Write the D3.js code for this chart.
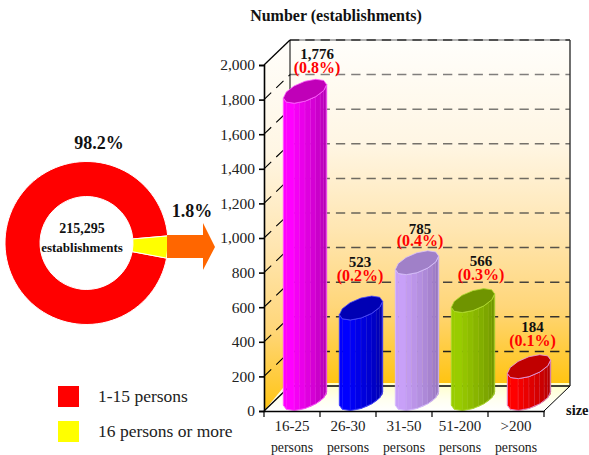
<!DOCTYPE html>
<html><head><meta charset="utf-8">
<script src="https://cdn.jsdelivr.net/npm/d3@7"></script>
<style>html,body{margin:0;padding:0;background:#fff}svg{display:block}text{font-family:"Liberation Serif","Times New Roman",serif}</style>
</head><body>
<script>
const categories=["16-25","26-30","31-50","51-200",">200"];
const categoryUnit="persons";
const values=[1776,523,785,566,184];
const valueLabels=["1,776","523","785","566","184"];
const shareLabels=["(0.8%)","(0.2%)","(0.4%)","(0.3%)","(0.1%)"];
const bodyLight=["#ff00ff","#0000ff","#c8a0f8","#99cc00","#ff0000"];
const bodyDark=["#a000a0","#000098","#8c6cb0","#668800","#a00000"];
const topColors=["#c000b8","#0000b4","#a080c8","#6f9400","#c00000"];
const edgeColors=["#ff60ff","#4a4aff","#d8c0ff","#b0dc30","#e0a0f0"];
const yTicks=[0,200,400,600,800,1000,1200,1400,1600,1800,2000];
const donutLabels=["1-15 persons","16 persons or more"];
const donutShares=[95.64,4.36];
const donutColors=["#ff0000","#ffff00"];

const W=589,H=455;
const svg=d3.select("body").append("svg").attr("width",W).attr("height",H);
const defs=svg.append("defs");
const wg=defs.append("linearGradient").attr("id","wall").attr("x1",0).attr("x2",0).attr("y1",0).attr("y2",1);
[[0,"#fffefb"],[.3,"#fff6e4"],[.55,"#ffe6b2"],[.78,"#ffd679"],[1,"#ffc412"]].forEach(s=>wg.append("stop").attr("offset",s[0]).attr("stop-color",s[1]));
const fg=defs.append("linearGradient").attr("id","floor").attr("x1",0).attr("x2",0).attr("y1",0).attr("y2",1);
[[0,"#ffffc8"],[.6,"#fffff0"],[1,"#ffffff"]].forEach(s=>fg.append("stop").attr("offset",s[0]).attr("stop-color",s[1]));

// plot geometry
const x0=264,x1=544,yB=411,yT=65,dx=26,dy=25;
const x=d3.scaleBand().domain(categories).range([x0,x1]);
const y=d3.scaleLinear().domain([0,2000]).range([yB,yT]);
const poly=p=>d3.line()(p)+"Z";

// walls and floor
svg.append("path").attr("d",poly([[x0,yT],[x0+dx,yT-dy],[x0+dx,yB-dy],[x0,yB]])).attr("fill","url(#wall)");
svg.append("rect").attr("x",x0+dx).attr("y",yT-dy).attr("width",x1-x0).attr("height",yB-yT-3).attr("fill","url(#wall)");
svg.append("path").attr("d",poly([[x0,yB],[x0+dx-3,yB-dy-3],[x1+dx,yB-dy-3],[x1+dx,yB-dy],[x1,yB]])).attr("fill","url(#floor)");

// grid
const gridCol=d3.scaleLinear().domain([0,1000,2000]).range(["#111","#6a6458","#858585"]);
yTicks.filter(t=>t>0&&t<2000).forEach(t=>{
  svg.append("line").attr("x1",x0+dx).attr("x2",x1+dx).attr("y1",y(t)-dy).attr("y2",y(t)-dy)
    .attr("stroke",gridCol(t)).attr("stroke-width",1.5).attr("stroke-dasharray","9.3 6");
  svg.append("line").attr("x1",x0).attr("x2",x0+dx).attr("y1",y(t)).attr("y2",y(t)-dy)
    .attr("stroke","#000").attr("stroke-width",1.1).attr("stroke-dasharray","10 7");
});
svg.append("line").attr("x1",x0+dx).attr("x2",x1+dx).attr("y1",yT-dy).attr("y2",yT-dy).attr("stroke","#999").attr("stroke-width",1.6);
svg.append("line").attr("x1",x0+dx).attr("x2",x1+dx).attr("y1",yT-dy).attr("y2",yT-dy).attr("stroke","#333").attr("stroke-width",1.6).attr("stroke-dasharray","9.3 6");
svg.append("line").attr("x1",x0+dx).attr("x2",x0+dx).attr("y1",yT-dy).attr("y2",yB-dy).attr("stroke","#000");
svg.append("line").attr("x1",x0).attr("x2",x0+dx).attr("y1",yT).attr("y2",yT-dy).attr("stroke","#000").attr("stroke-width",1.3);
svg.append("line").attr("x1",x0).attr("x2",x0+dx).attr("y1",yB).attr("y2",yB-dy).attr("stroke","#000").attr("stroke-width",1.3);
svg.append("line").attr("x1",x0+dx).attr("x2",x1+dx).attr("y1",yB-dy).attr("y2",yB-dy).attr("stroke","#000").attr("stroke-width",1.3);
svg.append("line").attr("x1",x1).attr("x2",x1+dx).attr("y1",yB).attr("y2",yB-dy).attr("stroke","#000");
svg.append("line").attr("x1",x1+dx).attr("x2",x1+dx).attr("y1",yT-dy).attr("y2",yB-dy).attr("stroke","#333").attr("stroke-width",1.4);

// bars
const R=[18,12,12];
const pt=(cx,cy,a)=>[cx+R[0]*Math.cos(a)+R[1]*Math.sin(a),cy-R[2]*Math.sin(a)];
const ringAngles=d3.range(0,12).map(i=>(34+i*30)*Math.PI/180);
const frontAngles=d3.range(0,7).map(i=>(214+i*30)*Math.PI/180);
values.forEach((v,i)=>{
  const cx=x(categories[i])+x.bandwidth()/2+dx/2;
  const cb=yB-dy/2, ct=y(v)-dy/2;
  const g=svg.append("g");
  const col=d3.scaleLinear().domain([0,1.5,6]).range([bodyLight[i],bodyLight[i],bodyDark[i]]);
  // each front facet is split into slim strips for the ribbed look
  const strips=[];
  frontAngles.slice(0,-1).forEach((a,k)=>{
    const b=frontAngles[k+1];
    const n=k<2?1:2;
    d3.range(n).forEach(s=>strips.push([a+(b-a)*s/n,a+(b-a)*(s+1)/n,k+s/n]));
  });
  strips.forEach(([a,b,t],k)=>{
    g.append("path").attr("d",poly([pt(cx,ct,a),pt(cx,ct,b),pt(cx,cb,b),pt(cx,cb,a)]))
      .attr("fill",col(t)).attr("stroke",col(t)).attr("stroke-width",.4);
    if(k>=1&&k<strips.length-1) g.append("line").attr("x1",pt(cx,ct,b)[0]).attr("x2",pt(cx,cb,b)[0]).attr("y1",pt(cx,ct,b)[1]).attr("y2",pt(cx,cb,b)[1])
      .attr("stroke",edgeColors[i]).attr("stroke-opacity",.55).attr("stroke-width",.7);
  });
  g.append("path").attr("d",poly(frontAngles.map(a=>pt(cx,ct,a)).concat(frontAngles.slice().reverse().map(a=>pt(cx,cb,a)))))
    .attr("fill","none").attr("stroke",edgeColors[i]).attr("stroke-width",.8);
  g.append("path").attr("d",poly(ringAngles.map(a=>pt(cx,ct,a)))).attr("fill",topColors[i]).attr("stroke",edgeColors[i]).attr("stroke-width",.8);
});

// axes
const ax=svg.append("g").attr("transform",`translate(${x0},0)`)
  .call(d3.axisLeft(y).tickValues(yTicks).tickFormat(d3.format(",")).tickSize(5).tickPadding(4));
ax.selectAll("path,line").attr("stroke","#000").attr("stroke-width",1.6);
ax.selectAll("text").attr("font-size",15.5).attr("fill","#222").attr("font-family","Liberation Serif");
const bx=svg.append("g").attr("transform",`translate(0,${yB})`)
  .call(d3.axisBottom(x).tickFormat(()=>"").tickSize(0));
bx.select("path").attr("stroke","#000").attr("stroke-width",1.6);
d3.range(0,6).forEach(i=>svg.append("line").attr("x1",x0+i*x.bandwidth()).attr("x2",x0+i*x.bandwidth()).attr("y1",yB).attr("y2",yB+6).attr("stroke","#000").attr("stroke-width",1.2));
categories.forEach(c=>{
  const cx=x(c)+x.bandwidth()/2;
  svg.append("text").attr("x",cx).attr("y",431).attr("text-anchor","middle").attr("font-size",15).attr("fill","#222").text(c);
  svg.append("text").attr("x",cx).attr("y",452).attr("text-anchor","middle").attr("font-size",13.8).attr("fill","#222").text(categoryUnit);
});
svg.append("text").attr("x",566).attr("y",415).attr("font-size",14.5).attr("font-weight","bold").attr("fill","#111").text("size");
svg.append("text").attr("x",336).attr("y",21).attr("text-anchor","middle").attr("font-size",16).attr("font-weight","bold").attr("fill","#111").text("Number (establishments)");

// data labels
const labelDX=[12,-1,3,8,3.5], labelDY=[32,41,29,35,35], labelGap=[14,14,12,14,14];
values.forEach((v,i)=>{
  const cx=x(categories[i])+x.bandwidth()/2+dx/2+labelDX[i];
  const base=y(v)-dy/2-labelDY[i];
  svg.append("text").attr("x",cx).attr("y",base).attr("text-anchor","middle").attr("font-size",15).attr("font-weight","bold").attr("fill","#111").text(valueLabels[i]);
  svg.append("text").attr("x",cx).attr("y",base+labelGap[i]).attr("text-anchor","middle").attr("font-size",16).attr("font-weight","bold").attr("fill","#ff0000").text(shareLabels[i]);
});

// donut
const dg=svg.append("g").attr("transform","translate(86.5,243)");
const arcs=d3.pie().sort(null).startAngle((85+15.7)*Math.PI/180).endAngle((360+85+15.7)*Math.PI/180)(donutShares);
dg.selectAll("path").data(arcs).join("path").attr("d",d3.arc().innerRadius(46.5).outerRadius(81.5))
  .attr("fill",(d,i)=>donutColors[i]).attr("stroke","#fff").attr("stroke-width",1);
svg.append("path").attr("fill","#ff6600")
  .attr("d",poly([[167,235],[203,235],[203,223],[215,247],[203,270],[203,258],[167,258]]));
svg.append("text").attr("x",99).attr("y",149).attr("text-anchor","middle").attr("font-size",18).attr("font-weight","bold").attr("fill","#111").text("98.2%");
svg.append("text").attr("x",192).attr("y",217).attr("text-anchor","middle").attr("font-size",18).attr("font-weight","bold").attr("fill","#111").text("1.8%");
svg.append("text").attr("x",82).attr("y",233).attr("text-anchor","middle").attr("font-size",14).attr("font-weight","bold").attr("fill","#111").text("215,295");
svg.append("text").attr("x",82).attr("y",252).attr("text-anchor","middle").attr("font-size",13).attr("font-weight","bold").attr("fill","#111").text("establishments");

// legend
donutLabels.forEach((l,i)=>{
  svg.append("rect").attr("x",58).attr("y",386+i*35).attr("width",21).attr("height",21).attr("fill",donutColors[i]);
  svg.append("text").attr("x",98).attr("y",402+i*35).attr("font-size",17.5).attr("fill","#222").text(l);
});
</script>
</body></html>
